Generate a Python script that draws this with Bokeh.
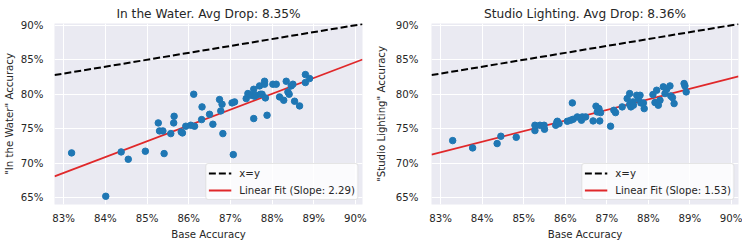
from bokeh.plotting import figure
from bokeh.layouts import row
from bokeh.models import Range1d, FixedTicker, CustomJSTickFormatter, Legend, LegendItem
from bokeh.embed import file_html
from bokeh.resources import INLINE

# ---- data ----
water_base = [83.19, 84.01, 84.38, 84.55, 84.96, 85.27, 85.30, 85.38, 85.41, 85.57, 85.65, 85.64,
              85.82, 85.85, 85.93, 86.05, 86.12, 86.14, 86.31, 86.32, 86.50, 86.58, 86.74, 86.77,
              86.80, 86.82, 87.04, 87.10, 87.07, 87.38, 87.42, 87.50, 87.56, 87.56, 87.58, 87.62,
              87.70, 87.72, 87.76, 87.82, 87.82, 87.84, 87.88, 88.02, 88.10, 88.18, 88.28, 88.34,
              88.38, 88.41, 88.46, 88.50, 88.54, 88.66, 88.80, 88.80, 88.90]
water_acc = [71.52, 65.24, 71.66, 70.60, 71.76, 75.86, 74.70, 74.70, 71.42, 74.31, 76.82, 75.86,
             74.56, 74.41, 75.38, 75.52, 80.01, 75.38, 76.34, 78.18, 77.11, 75.67, 79.24, 77.60,
             78.56, 74.31, 78.76, 78.90, 71.27, 79.38, 80.11, 79.86, 80.73, 76.49, 79.72, 79.86,
             81.22, 80.01, 80.01, 81.89, 81.46, 79.48, 76.97, 81.46, 81.46, 79.62, 79.14, 81.89,
             80.35, 80.01, 81.22, 81.46, 79.00, 78.32, 82.86, 81.70, 82.28]

studio_base = [83.29, 83.77, 84.36, 84.45, 84.82, 85.27, 85.27, 85.39, 85.49, 85.50, 85.77, 85.80,
               85.81, 85.85, 86.05, 86.13, 86.17, 86.19, 86.29, 86.39, 86.41, 86.49, 86.67, 86.74,
               86.77, 86.81, 86.83, 86.85, 87.09, 87.17, 87.21, 87.37, 87.49, 87.55, 87.55, 87.58,
               87.63, 87.64, 87.72, 87.76, 87.80, 87.82, 87.88, 87.90, 88.11, 88.16, 88.20, 88.24,
               88.28, 88.36, 88.40, 88.44, 88.52, 88.54, 88.58, 88.62, 88.86, 88.88, 88.91]
studio_acc = [73.30, 72.24, 72.87, 73.93, 73.78, 74.75, 75.52, 75.52, 75.52, 74.94, 75.52, 76.00,
              76.10, 75.76, 76.10, 76.25, 78.76, 76.39, 76.73, 76.25, 76.73, 76.73, 76.15, 78.28,
              77.45, 77.93, 76.15, 77.35, 75.38, 77.69, 77.35, 78.18, 79.38, 80.11, 78.52, 78.18,
              78.90, 78.42, 79.86, 79.38, 79.86, 78.76, 78.76, 77.93, 79.96, 78.81, 80.59, 78.42,
              79.14, 81.08, 80.11, 80.73, 81.22, 79.77, 79.53, 78.66, 81.56, 81.22, 80.35]

titles = ["In the Water. Avg Drop: 8.35%", "Studio Lighting. Avg Drop: 8.36%"]
ylabels = ['"In the Water" Accuracy', '"Studio Lighting" Accuracy']
slopes = [2.29, 1.53]
intercepts = [-121.45, -55.38]
x_ticks = [83, 84, 85, 86, 87, 88, 89, 90]
y_ticks = [65, 70, 75, 80, 85, 90]

X_MIN, X_MAX = 82.78, 90.17
Y_MIN, Y_MAX = 64.05, 90.25

TEXT = "#262626"
FONT = "DejaVu Sans"


def make_panel(base, acc, title, ylabel, slope, intercept, left_border, right_border,
               frame_w, tick_standoff, label_standoff):
    p = figure(frame_width=frame_w, frame_height=181, output_backend="svg", toolbar_location=None,
               x_range=Range1d(X_MIN, X_MAX), y_range=Range1d(Y_MIN, Y_MAX),
               min_border_left=left_border, min_border_right=right_border, min_border_top=23,
               min_border_bottom=34)
    p.background_fill_color = "#EAEAF2"
    p.border_fill_color = "white"
    p.outline_line_color = None

    p.title.text = title
    p.title.align = "center"
    p.title.text_font = FONT
    p.title.text_font_size = "12.2px"
    p.title.text_font_style = "normal"
    p.title.text_color = TEXT
    p.title.offset = 0
    p.title.standoff = 6

    fmt = CustomJSTickFormatter(code="return tick.toFixed(0) + '%';")
    for ax in (p.xaxis[0], p.yaxis[0]):
        ax.formatter = fmt
        ax.axis_line_color = None
        ax.major_tick_line_color = None
        ax.minor_tick_line_color = None
        ax.major_tick_out = 0
        ax.major_tick_in = 0
        ax.minor_tick_out = 0
        ax.major_label_text_font = FONT
        ax.major_label_text_font_size = "10.2px"
        ax.major_label_text_color = TEXT
        ax.axis_label_text_font = FONT
        ax.axis_label_text_font_size = "10.2px"
        ax.axis_label_text_font_style = "normal"
        ax.axis_label_text_color = TEXT
    p.xaxis[0].ticker = FixedTicker(ticks=x_ticks)
    p.yaxis[0].ticker = FixedTicker(ticks=y_ticks)
    p.xaxis[0].axis_label = "Base Accuracy"
    p.yaxis[0].axis_label = ylabel
    p.xaxis[0].major_label_standoff = 8
    p.yaxis[0].major_label_standoff = tick_standoff
    p.xaxis[0].axis_label_standoff = 2
    p.yaxis[0].axis_label_standoff = label_standoff

    p.xgrid.grid_line_color = "white"
    p.ygrid.grid_line_color = "white"
    p.xgrid.grid_line_width = 1
    p.ygrid.grid_line_width = 1

    xs = [X_MIN, X_MAX]
    r_diag = p.line(xs, xs, line_color="black", line_width=2, line_dash="7 3")
    r_fit = p.line(xs, [slope * x + intercept for x in xs], line_color="#e0282a", line_width=1.8)
    p.scatter(base, acc, size=6.5, fill_color="#1f77b4", line_color="#1f77b4")

    legend = Legend(items=[LegendItem(label="x=y", renderers=[r_diag]),
                           LegendItem(label=f"Linear Fit (Slope: {slope:.2f})", renderers=[r_fit])],
                    location="bottom_right")
    legend.label_text_font = FONT
    legend.label_text_font_size = "10.2px"
    legend.label_text_color = TEXT
    legend.background_fill_color = "white"
    legend.background_fill_alpha = 0.8
    legend.border_line_color = "#cccccc"
    legend.border_line_width = 1
    legend.border_radius = 3
    legend.glyph_width = 23
    legend.glyph_height = 14
    legend.label_height = 14
    legend.spacing = 3
    legend.padding = 2
    legend.margin = 4
    legend.label_standoff = 8
    p.add_layout(legend)
    return p


p1 = make_panel(water_base, water_acc, titles[0], ylabels[0], slopes[0], intercepts[0],
                49, 10, 308, 11, 3)
p2 = make_panel(studio_base, studio_acc, titles[1], ylabels[1], slopes[1], intercepts[1],
                57, 4, 307, 13, 6)
layout = row(p1, p2)

open("out.html", "w").write(file_html(layout, INLINE))
